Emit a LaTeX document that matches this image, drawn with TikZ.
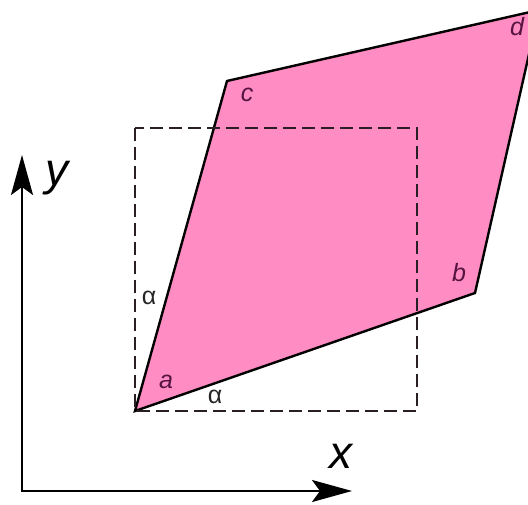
\documentclass[tikz,border=0pt]{standalone}
\usepackage{fontspec}
\setmainfont{Liberation Sans}
\usetikzlibrary{arrows.meta}
\definecolor{pinkfill}{RGB}{255,140,195}
\definecolor{vlabel}{RGB}{85,20,65}
\definecolor{dashcol}{RGB}{40,30,35}
\begin{document}
\begin{tikzpicture}[x=1pt,y=-1pt,
  edge/.style={draw=black,line width=2.4pt,line join=miter},
  sqdash/.style={draw=dashcol,line width=2.4pt,dash pattern=on 13pt off 6pt},
  axis/.style={draw=black,line width=2.4pt,-{Stealth[length=40pt,width=22pt,inset=8pt]}},
  vlab/.style={font=\fontsize{25}{28}\selectfont\itshape,text=vlabel,inner sep=0pt},
  alab/.style={font=\fontsize{25}{28}\selectfont,text=black!85,inner sep=0pt},
  axlab/.style={font=\fontsize{46}{50}\selectfont\itshape,inner sep=0pt}]
\useasboundingbox (0,0) rectangle (528,505);
\clip (0,0) rectangle (528,505);
\coordinate (a) at (135,411);
\coordinate (b) at (475,293);
\coordinate (d) at (539,10);
\coordinate (c) at (227,81);
\fill[pinkfill] (a) -- (b) -- (d) -- (c) -- cycle;
\draw[edge] (a) -- (b) -- (d) -- (c) -- cycle;
\draw[sqdash] (135,128) rectangle (417,411);
\coordinate (o) at (22,491);
\coordinate (ytip) at (22,155);
\coordinate (xtip) at (352,491);
\draw[axis] (o) -- (ytip);
\draw[axis] ([xshift=-1.2pt]o) -- (xtip);
\node[vlab] (la) at (166,382) {a};
\node[vlab] (lb) at (459,273) {b};
\node[vlab] (lc) at (247,95) {c};
\node[vlab] (ld) at (517,27) {d};
\node[alab] (al1) at (149,298) {α};
\node[alab] (al2) at (215,397) {α};
\node[axlab] (ly) at (57,178) {y};
\node[axlab] (lx) at (341,456) {x};
\end{tikzpicture}
\end{document}
